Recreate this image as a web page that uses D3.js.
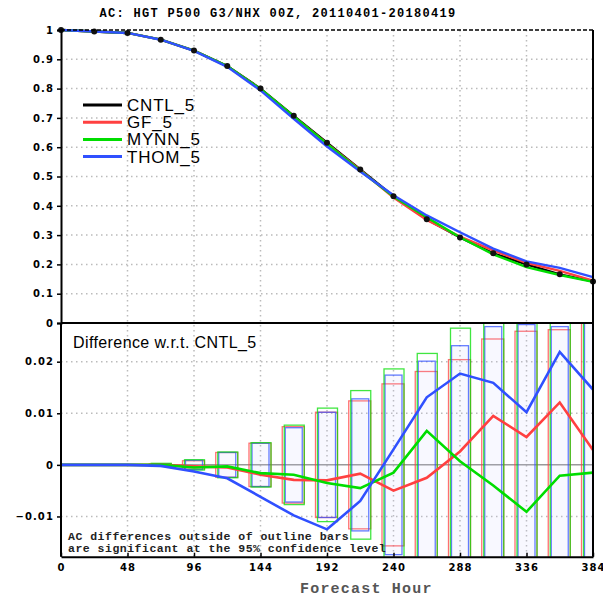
<!DOCTYPE html>
<html>
<head>
<meta charset="utf-8">
<script src="https://cdn.jsdelivr.net/npm/d3@7"></script>
<style>
  body { margin: 0; background: #fff; }
  svg { display: block; }
</style>
</head>
<body>
<div id="chart"></div>
<script>

// forecast hours (every 24h)
var hours = [0, 24, 48, 72, 96, 120, 144, 168, 192, 216, 240, 264, 288, 312, 336, 360, 384];

// anomaly correlation of the control run
var cntl = [1.0, 0.995, 0.99, 0.967, 0.93, 0.877, 0.80, 0.707, 0.615, 0.524, 0.433, 0.354, 0.292, 0.238, 0.200, 0.166, 0.142];

// differences w.r.t. CNTL_5
var gfDiff   = [0, 0, 0, 0, -0.0003, -0.0005, -0.0019, -0.0029, -0.0030, -0.0017, -0.0050, -0.0025, 0.0026, 0.0095, 0.0054, 0.0121, 0.0029];
var mynnDiff = [0, 0, 0, 0, -0.0005, -0.0003, -0.0016, -0.0019, -0.0035, -0.0045, -0.0015, 0.0066, 0.0007, -0.0040, -0.0091, -0.0021, -0.0015];
var thomDiff = [0, 0, 0, -0.0002, -0.0013, -0.0026, -0.0062, -0.0098, -0.0125, -0.0070, 0.0030, 0.0131, 0.0177, 0.0159, 0.0102, 0.0219, 0.0146];

// half widths of the 95% confidence bars
var gfCI   = [0, 0, 0, 0.0002, 0.0008, 0.0024, 0.0042, 0.0074, 0.0102, 0.0124, 0.0157, 0.0181, 0.0204, 0.0244, 0.0259, 0.0262, 0.0300];
var mynnCI = [0, 0, 0, 0.0003, 0.0010, 0.0025, 0.0043, 0.0077, 0.0110, 0.0144, 0.0186, 0.0216, 0.0265, 0.0290, 0.0300, 0.0300, 0.0330];
var thomCI = [0, 0, 0, 0.0002, 0.0009, 0.0024, 0.0042, 0.0072, 0.0102, 0.0128, 0.0174, 0.0201, 0.0231, 0.0268, 0.0272, 0.0268, 0.0310];

var xTicks = [0, 48, 96, 144, 192, 240, 288, 336, 384];
var topTicks = [0.1, 0.2, 0.3, 0.4, 0.5, 0.6, 0.7, 0.8, 0.9, 1];
var botTicks = [-0.01, 0, 0.01, 0.02];

var runNames = ['CNTL_5', 'GF_5', 'MYNN_5', 'THOM_5'];
var runColors = ['#000000', '#ff4040', '#00dd00', '#3050ff'];

var titleText = 'AC: HGT P500 G3/NHX 00Z, 20110401-20180419';
var noteLines = ['AC differences outside of outline bars', 'are significant at the 95% confidence level'];


function renderChart(params) {
    var attrs = {
        svgWidth: 603,
        svgHeight: 597,
        left: 61,
        right: 593,
        top: 30,
        middle: 323,
        bottom: 556.7,
        botMin: -0.0178,
        botMax: 0.0275
    };

    var main = function (selection) {
        selection.each(function () {

            var svg = d3.select(this)
                .append('svg')
                .attr('width', attrs.svgWidth)
                .attr('height', attrs.svgHeight);

            //scales
            var x = d3.scaleLinear().domain([0, 384]).range([attrs.left, attrs.right]);
            var yTop = d3.scaleLinear().domain([0, 1]).range([attrs.middle, attrs.top]);
            var yBot = d3.scaleLinear().domain([attrs.botMin, attrs.botMax]).range([attrs.bottom, attrs.middle]);

            svg.append('clipPath').attr('id', 'clipBot')
                .append('rect')
                .attr('x', attrs.left).attr('y', attrs.middle)
                .attr('width', attrs.right - attrs.left)
                .attr('height', attrs.bottom - attrs.middle);

            //grid
            var grid = svg.append('g')
                .attr('stroke', '#bbb')
                .attr('stroke-width', 1.5)
                .attr('stroke-dasharray', '1.5,3.5');

            grid.selectAll('.vgrid')
                .data(xTicks.slice(1, -1))
                .enter().append('line')
                .attr('x1', d => x(d)).attr('x2', d => x(d))
                .attr('y1', attrs.top).attr('y2', attrs.bottom);

            grid.selectAll('.hgridTop')
                .data(topTicks.slice(0, -1))
                .enter().append('line')
                .attr('x1', attrs.left).attr('x2', attrs.right)
                .attr('y1', d => yTop(d)).attr('y2', d => yTop(d));

            grid.selectAll('.hgridBot')
                .data(botTicks.filter(d => d != 0))
                .enter().append('line')
                .attr('x1', attrs.left).attr('x2', attrs.right)
                .attr('y1', d => yBot(d)).attr('y2', d => yBot(d));

            svg.append('line')
                .attr('x1', attrs.left).attr('x2', attrs.right)
                .attr('y1', yBot(0)).attr('y2', yBot(0))
                .attr('stroke', '#999').attr('stroke-width', 1.5);

            //confidence bars
            var bars = svg.append('g').attr('clip-path', 'url(#clipBot)');
            var barSets = [
                { ci: gfCI, color: runColors[1], w: 22, dx: -0.5, fill: 'none' },
                { ci: thomCI, color: runColors[3], w: 17, dx: 0, fill: 'rgba(200,200,255,0.13)' },
                { ci: mynnCI, color: runColors[2], w: 20, dx: 0.5, fill: 'none' }
            ];
            barSets.forEach(function (s) {
                bars.selectAll(null)
                    .data(hours.map((h, i) => ({ h: h, v: s.ci[i] })).filter(d => d.v > 0))
                    .enter().append('rect')
                    .attr('x', d => x(d.h) - s.w / 2 + s.dx)
                    .attr('y', d => yBot(d.v))
                    .attr('width', s.w)
                    .attr('height', d => yBot(-d.v) - yBot(d.v))
                    .attr('fill', s.fill)
                    .attr('stroke', s.color)
                    .attr('stroke-opacity', 0.75)
                    .attr('stroke-width', 1.3);
            });

            //difference lines
            var lineBot = d3.line().x((d, i) => x(hours[i])).y(d => yBot(d));
            [[gfDiff, runColors[1]], [mynnDiff, runColors[2]], [thomDiff, runColors[3]]].forEach(function (p) {
                svg.append('path')
                    .attr('d', lineBot(p[0]))
                    .attr('fill', 'none')
                    .attr('stroke', p[1])
                    .attr('stroke-width', 2.6)
                    .attr('clip-path', 'url(#clipBot)');
            });

            //top panel lines
            var lineTop = d3.line().x((d, i) => x(hours[i])).y(d => yTop(d));
            var topSeries = [
                cntl,
                cntl.map((v, i) => v + gfDiff[i]),
                cntl.map((v, i) => v + mynnDiff[i]),
                cntl.map((v, i) => v + thomDiff[i])
            ];
            topSeries.forEach(function (s, k) {
                svg.append('path')
                    .attr('d', lineTop(s))
                    .attr('fill', 'none')
                    .attr('stroke', runColors[k])
                    .attr('stroke-width', 2.4);
            });

            svg.selectAll('.dot')
                .data(cntl)
                .enter().append('circle')
                .attr('cx', (d, i) => x(hours[i]))
                .attr('cy', d => yTop(d))
                .attr('r', 3)
                .attr('fill', '#111');

            //frame
            var frame = svg.append('g').attr('stroke', '#000').attr('fill', 'none');
            frame.append('line').attr('x1', attrs.left).attr('x2', attrs.right)
                .attr('y1', attrs.top).attr('y2', attrs.top)
                .attr('stroke-width', 1.5).attr('stroke-dasharray', '4,2');
            frame.append('line').attr('x1', attrs.left).attr('x2', attrs.right)
                .attr('y1', attrs.middle).attr('y2', attrs.middle).attr('stroke-width', 2);
            frame.append('line').attr('x1', attrs.right).attr('x2', attrs.right)
                .attr('y1', attrs.top).attr('y2', attrs.bottom).attr('stroke-width', 2);

            //axes
            var tickFont = function (g) {
                g.selectAll('text')
                    .attr('font-family', 'DejaVu Sans, sans-serif')
                    .attr('font-weight', 'bold')
                    .attr('font-size', 10)
                    .attr('letter-spacing', 1.1)
                    .attr('fill', '#000');
                g.select('.domain').attr('stroke-width', 2);
                g.selectAll('.tick line').attr('stroke-width', 1.5);
            };

            svg.append('g')
                .attr('transform', 'translate(' + attrs.left + ',0)')
                .call(d3.axisLeft(yTop).tickValues([0].concat(topTicks)).tickSize(4).tickPadding(3)
                    .tickFormat(d => d3.format('')(+d.toFixed(1))))
                .call(tickFont);

            svg.append('g')
                .attr('transform', 'translate(' + attrs.left + ',0)')
                .call(d3.axisLeft(yBot).tickValues(botTicks).tickSize(4).tickPadding(3)
                    .tickFormat(d => d == 0 ? '0' : d3.format('.2f')(d)))
                .call(tickFont)
                .call(g => g.select('.domain').attr('d', 'M-0,' + attrs.middle + 'V' + attrs.bottom));

            svg.append('g')
                .attr('transform', 'translate(0,' + attrs.bottom + ')')
                .call(d3.axisBottom(x).tickValues(xTicks).tickSizeInner(-4).tickSizeOuter(0).tickPadding(6))
                .call(tickFont)
                .call(g => g.selectAll('text').attr('dy', '0.85em'));

            //texts
            svg.append('text')
                .attr('x', 278).attr('y', 17)
                .attr('text-anchor', 'middle')
                .attr('font-family', 'Liberation Mono, monospace')
                .attr('font-weight', 'bold')
                .attr('font-size', 12)
                .attr('letter-spacing', 1.3)
                .text(titleText);

            svg.append('text')
                .attr('x', 300).attr('y', 593)
                .attr('font-family', 'Liberation Mono, monospace')
                .attr('font-weight', 'bold')
                .attr('font-size', 15)
                .attr('letter-spacing', 1.2)
                .attr('fill', '#555')
                .text('Forecast Hour');

            svg.append('text')
                .attr('x', 73).attr('y', 348)
                .attr('font-family', 'Liberation Sans, Arial, sans-serif')
                .attr('font-size', 16)
                .attr('letter-spacing', 0.4)
                .text('Difference w.r.t. CNTL_5');

            svg.selectAll('.note')
                .data(noteLines)
                .enter().append('text')
                .attr('x', 68)
                .attr('y', (d, i) => 540 + i * 12)
                .attr('font-family', 'Liberation Mono, monospace')
                .attr('font-weight', 'bold')
                .attr('font-size', 11.5)
                .attr('letter-spacing', 0.5)
                .attr('fill', '#222')
                .text(d => d);

            //legend
            var legend = svg.append('g');
            runNames.forEach(function (name, i) {
                var ly = 105 + i * 17.2;
                legend.append('line')
                    .attr('x1', 83).attr('x2', 122)
                    .attr('y1', ly).attr('y2', ly)
                    .attr('stroke', runColors[i])
                    .attr('stroke-width', 3);
                legend.append('text')
                    .attr('x', 127).attr('y', ly + 6)
                    .attr('font-family', 'Liberation Sans, Arial, sans-serif')
                    .attr('font-size', 17)
                    .attr('letter-spacing', 0.8)
                    .text(name);
            });
        });
    };

    return main;
}

d3.select('#chart').call(renderChart());
</script>
</body>
</html>
